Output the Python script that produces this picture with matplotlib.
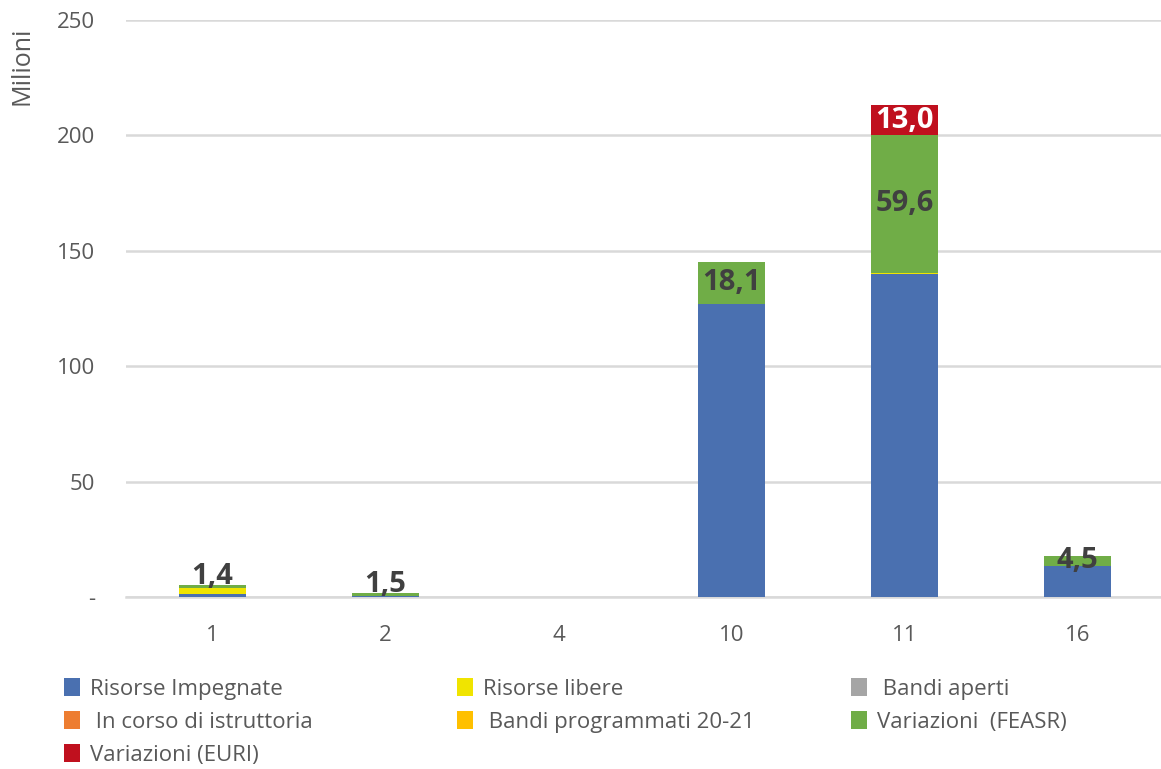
import numpy as np
import matplotlib.pyplot as plt
from matplotlib.patches import Patch

plt.rcParams['font.family'] = ['Open Sans', 'DejaVu Sans']

# Data (millions)
categories = ['1', '2', '4', '10', '11', '16']
series_names = ['Risorse Impegnate', 'Risorse libere', ' Bandi aperti',
                ' In corso di istruttoria', ' Bandi programmati 20-21',
                'Variazioni  (FEASR)', 'Variazioni (EURI)']
impegnate = [1.3, 0.3, 0.0, 127.0, 140.0, 13.4]
libere = [2.6, 0.0, 0.0, 0.0, 0.5, 0.0]
bandi_aperti = [0.0, 0.0, 0.0, 0.0, 0.0, 0.0]
istruttoria = [0.0, 0.0, 0.0, 0.0, 0.0, 0.0]
programmati = [0.0, 0.0, 0.0, 0.0, 0.0, 0.0]
var_feasr = [1.4, 1.5, 0.0, 18.1, 59.6, 4.5]
var_euri = [0.0, 0.0, 0.0, 0.0, 13.0, 0.0]

colors = ['#4A70B0', '#F0E400', '#A5A5A5', '#ED7D31', '#FFC000', '#70AD47', '#C0101E']
label_color = '#404040'
text_color = '#595959'

fig = plt.figure(figsize=(11.61, 7.69), dpi=100)
ax = fig.add_axes([0.1085, 0.2237, 0.894, 0.7503])

x = np.arange(len(categories))
width = 0.39
stack = [impegnate, libere, bandi_aperti, istruttoria, programmati, var_feasr, var_euri]
totals = np.sum(np.array(stack), axis=0)
bottom = np.zeros(len(categories))
handles = []
for i, vals in enumerate(stack):
    vals = np.array(vals)
    ax.bar(x, vals, width, bottom=bottom, color=colors[i], zorder=3)
    handles.append(Patch(facecolor=colors[i], label=series_names[i]))
    # data labels for the two "Variazioni" series
    if i >= 5:
        for j, v in enumerate(vals):
            if v <= 0:
                continue
            ypos = bottom[j] + v / 2
            if v < 3:
                # too thin for the label: it sits just above the bar
                ypos = totals[j] + 3.6
            col = 'white' if i == 6 else label_color
            ax.text(x[j], ypos, ('%.1f' % v).replace('.', ','), ha='center', va='center',
                    fontsize=21, fontweight='bold', color=col, zorder=4)
    bottom += vals

ax.set_xlim(-0.5, len(categories) - 0.5)
ax.set_ylim(0, 250)
ax.set_yticks([0, 50, 100, 150, 200, 250])
ax.set_yticklabels(['-', '50', '100', '150', '200', '250'], fontsize=16, color=text_color)
ax.set_xticks(x)
ax.set_xticklabels(categories, fontsize=16, color=text_color)
ax.tick_params(axis='x', length=0, pad=20)
ax.tick_params(axis='y', length=0, pad=22)
ax.grid(axis='y', color='#D9D9D9', linewidth=1.8, zorder=0)
for s in ['top', 'right', 'left']:
    ax.spines[s].set_visible(False)
ax.spines['bottom'].set_color('#D9D9D9')
ax.spines['bottom'].set_linewidth(1.8)

fig.text(22 / 1161, 1 - 27 / 769, 'Milioni', rotation=90, ha='center', va='top',
         fontsize=18, color=text_color)

# Legend laid out in three columns, row-major like the original
cols = [[0, 3, 6], [1, 4], [2, 5]]
col_x = [64 / 1161, 457 / 1161, 851 / 1161]
for cx, idx in zip(col_x, cols):
    leg = fig.legend(handles=[handles[k] for k in idx], loc='upper left',
                     bbox_to_anchor=(cx, 1 - 678 / 769), frameon=False, fontsize=16,
                     handlelength=0.7, handleheight=0.9, handletextpad=0.45,
                     labelspacing=0.5, borderpad=0, borderaxespad=0)
    for t in leg.get_texts():
        t.set_color(text_color)

fig.savefig('out.png', dpi=100)
